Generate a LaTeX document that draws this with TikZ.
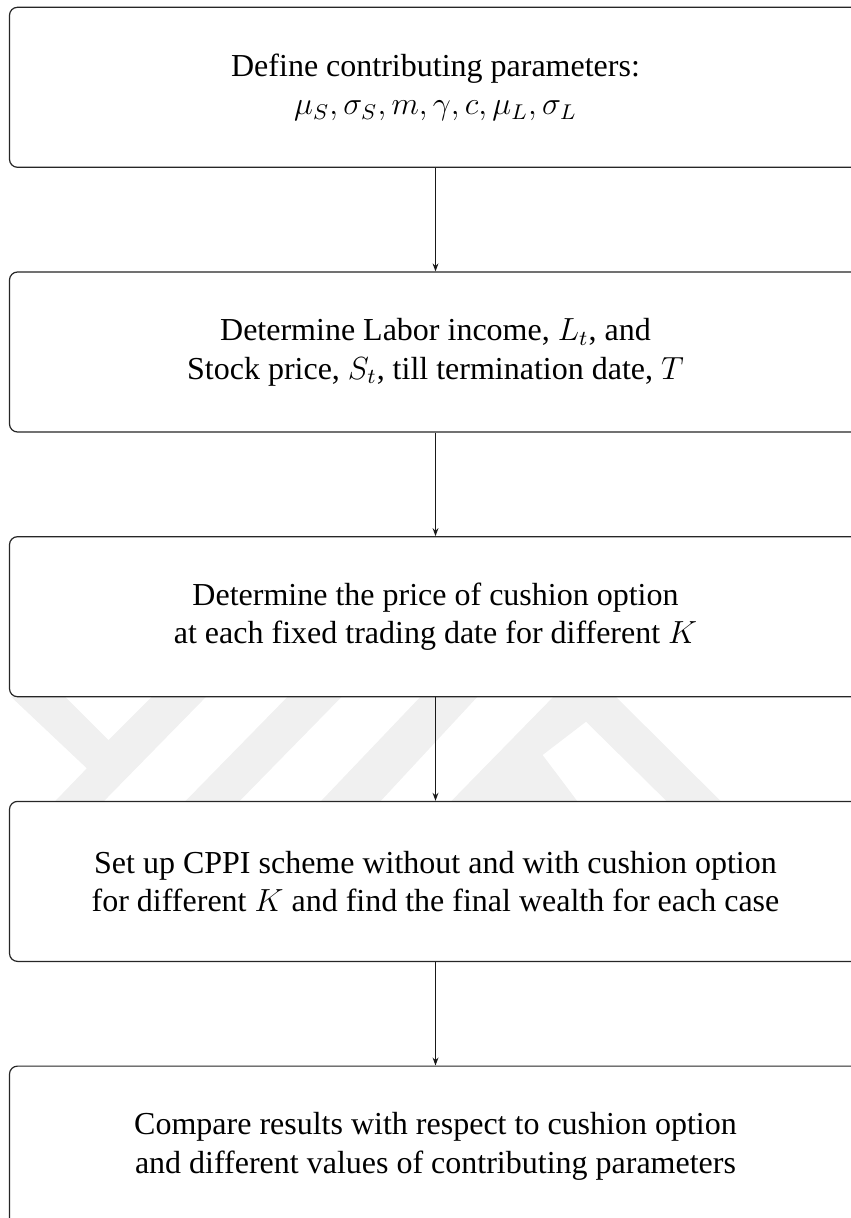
\documentclass[tikz,border=0pt]{standalone}
\usepackage{fontspec}
\setmainfont{Liberation Serif}
\usetikzlibrary{arrows.meta}
\begin{document}
\begin{tikzpicture}[x=0.375pt,y=-0.375pt,
  stepbox/.style={draw=black!85, line width=0.45pt, rounded corners=3pt, fill=white,
    minimum width=319.5pt, minimum height=60pt, align=center, inner sep=0pt,
    font=\fontsize{12}{14.5}\selectfont},
  flow/.style={-{Stealth[length=3pt,width=2.2pt]}, line width=0.4pt, draw=black!90},
  wmark/.style={fill=black!6, draw=none}]
\useasboundingbox (0,0) rectangle (851,1218);
% faint watermark visible between the third and fourth boxes
\fill[wmark] (10.9,696.7) -- (65.1,696.7) -- (108.5,740) -- (151.9,696.7) -- (206.2,696.7)
  -- (103.1,802) -- (54.3,802) -- (86.8,768.3) -- cycle;
\fill[wmark] (287.6,696.7) -- (341.8,696.7) -- (238.7,802) -- (184.5,802) -- cycle;
\fill[wmark] (420.5,696.7) -- (477.5,696.7) -- (379.8,802) -- (320.1,802) -- cycle;
\fill[wmark] (553.4,696.7) -- (615.8,696.7) -- (721.6,802) -- (667.4,802) -- (586,721.7)
  -- (542.6,755) -- (577.9,802) -- (450.4,802) -- cycle;
% flowchart
\node[stepbox] (s1) at (435.5,87.3) {Define contributing parameters:\\ $\mu_S, \sigma_S, m, \gamma, c, \mu_L, \sigma_L$};
\node[stepbox] (s2) at (435.5,352.0) {Determine Labor income, $L_t$, and\\ Stock price, $S_t$, till termination date, $T$};
\node[stepbox] (s3) at (435.5,616.7) {Determine the price of cushion option\\ at each fixed trading date for different $K$};
\node[stepbox] (s4) at (435.5,881.4) {Set up CPPI scheme without and with cushion option\\ for different $K$ and find the final wealth for each case};
\node[stepbox] (s5) at (435.5,1146.1) {Compare results with respect to cushion option\\ and different values of contributing parameters};
\draw[flow] (s1) -- (s2);
\draw[flow] (s2) -- (s3);
\draw[flow] (s3) -- (s4);
\draw[flow] (s4) -- (s5);
\end{tikzpicture}
\end{document}
